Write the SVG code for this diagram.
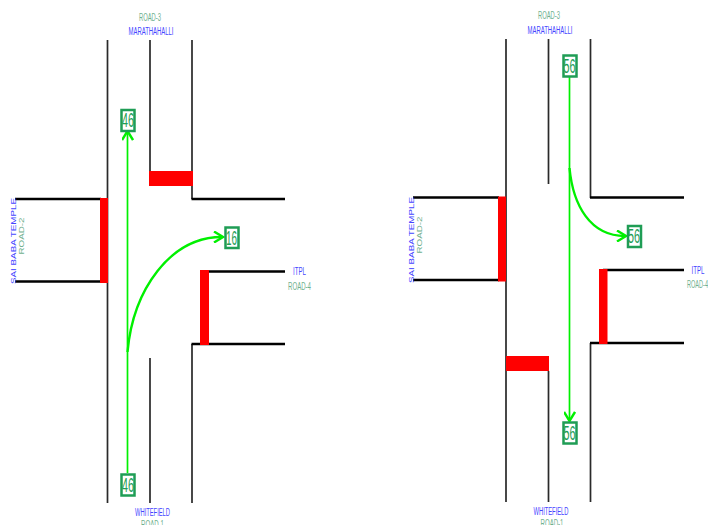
<svg xmlns="http://www.w3.org/2000/svg" width="708" height="525" viewBox="0 0 708 525">
<style>
text{font-family:"Liberation Sans",Arial,sans-serif;font-size:10px;text-anchor:middle}
.b{fill:#4444ff}
.g{fill:#6fb08e}
.sb{font-size:6.500px}
.sg{font-size:7.500px}
.n{fill:#1f9d55;font-size:20px}
.box{fill:#fff;stroke:#1f9d55;stroke-width:2.500}
.v{fill:none;stroke:#2a2a2a;stroke-width:1.700}
.h{fill:none;stroke:#000;stroke-width:2.400}
.sig{fill:#f00}
.flow{fill:none;stroke:#00f000;stroke-width:1.700}
.turn{fill:none;stroke:#00f000;stroke-width:2.400}
</style>
<defs>
<marker id="arrow" markerWidth="12" markerHeight="12" refX="9" refY="5" orient="auto" markerUnits="userSpaceOnUse" viewBox="0 0 12 10">
<path d="M1 -0.500L10 5L1 10.500" fill="none" stroke="#00f000" stroke-width="2.400"/>
</marker>
</defs>
<g id="roads-left">
<path class="v" d="M107.500 40V503M150 40V172M192 40V199M150 358V503M192 344V503"/>
<path class="h" d="M15 199H101M15 281.500H101M191.500 199H285M191.500 344H285M205 271.500H285"/>
</g>
<g id="signals-left">
<rect class="sig" x="149" y="171" width="44" height="15"/>
<rect class="sig" x="100" y="198" width="8" height="85"/>
<rect class="sig" x="200" y="270" width="9" height="75"/>
</g>
<g id="roads-right">
<path class="v" d="M506 39V502M548.500 39V184M590.500 39V198M548.500 371V502M590.500 343V502"/>
<path class="h" d="M413 197.500H499M413 280H499M590 197.500H684M590 343H684M603 270H684"/>
</g>
<g id="signals-right">
<rect class="sig" x="498" y="196.500" width="8" height="85"/>
<rect class="sig" x="506" y="356" width="43" height="15"/>
<rect class="sig" x="599" y="269" width="8.500" height="75"/>
</g>
<g id="connectors">
<path class="flow" marker-end="url(#arrow)" d="M127.500 473V132"/>
<path class="turn" marker-end="url(#arrow)" d="M127.500 352C133 290 170 237 222 237"/>
<path class="flow" marker-end="url(#arrow)" d="M569.500 77V420"/>
<path class="turn" marker-end="url(#arrow)" d="M569.500 168C573 205 590 236 625 236"/>
</g>
<g id="box-46-top"><rect class="box" x="121.500" y="110" width="13" height="21"/><text class="n" x="128" y="127" textLength="12" lengthAdjust="spacingAndGlyphs">46</text></g>
<g id="box-16"><rect class="box" x="225.500" y="227.500" width="13" height="20.500"/><text class="n" x="231.500" y="244.500" textLength="11" lengthAdjust="spacingAndGlyphs">16</text></g>
<g id="box-46-bottom"><rect class="box" x="121.500" y="474.500" width="13" height="21"/><text class="n" x="128" y="491.500" textLength="12" lengthAdjust="spacingAndGlyphs">46</text></g>
<g id="box-56-top"><rect class="box" x="563.500" y="55.500" width="13" height="21"/><text class="n" x="569.500" y="72.500" textLength="12" lengthAdjust="spacingAndGlyphs">56</text></g>
<g id="box-56-right"><rect class="box" x="628" y="226" width="13" height="21"/><text class="n" x="634" y="243" textLength="12" lengthAdjust="spacingAndGlyphs">56</text></g>
<g id="box-56-bottom"><rect class="box" x="563.500" y="422.500" width="13" height="21"/><text class="n" x="569.500" y="439.500" textLength="12" lengthAdjust="spacingAndGlyphs">56</text></g>
<g id="labels-left">
<text class="g" x="150" y="20.500" textLength="22" lengthAdjust="spacingAndGlyphs">ROAD-3</text>
<text class="b" x="151" y="35" textLength="45" lengthAdjust="spacingAndGlyphs">MARATHAHALLI</text>
<text class="b" x="152.500" y="516" textLength="35" lengthAdjust="spacingAndGlyphs">WHITEFIELD</text>
<text class="g" x="152.500" y="528" textLength="23" lengthAdjust="spacingAndGlyphs">ROAD-1</text>
<text class="b" x="299.500" y="275" textLength="13" lengthAdjust="spacingAndGlyphs">ITPL</text>
<text class="g" x="299.500" y="289.500" textLength="23" lengthAdjust="spacingAndGlyphs">ROAD-4</text>
<text class="b sb" transform="translate(15.500 241) rotate(-90)" textLength="86" lengthAdjust="spacingAndGlyphs">SAI BABA TEMPLE</text>
<text class="g sg" transform="translate(23.500 236) rotate(-90)" textLength="37" lengthAdjust="spacingAndGlyphs">ROAD-2</text>
</g>
<g id="labels-right">
<text class="g" x="549" y="19" textLength="22" lengthAdjust="spacingAndGlyphs">ROAD-3</text>
<text class="b" x="550" y="34" textLength="45" lengthAdjust="spacingAndGlyphs">MARATHAHALLI</text>
<text class="b" x="551" y="514.500" textLength="35" lengthAdjust="spacingAndGlyphs">WHITEFIELD</text>
<text class="g" x="552" y="527" textLength="23" lengthAdjust="spacingAndGlyphs">ROAD-1</text>
<text class="b" x="698" y="274" textLength="13" lengthAdjust="spacingAndGlyphs">ITPL</text>
<text class="g" x="697.500" y="288" textLength="21" lengthAdjust="spacingAndGlyphs">ROAD-4</text>
<text class="b sb" transform="translate(414 240) rotate(-90)" textLength="86" lengthAdjust="spacingAndGlyphs">SAI BABA TEMPLE</text>
<text class="g sg" transform="translate(422 235) rotate(-90)" textLength="37" lengthAdjust="spacingAndGlyphs">ROAD-2</text>
</g>
</svg>
